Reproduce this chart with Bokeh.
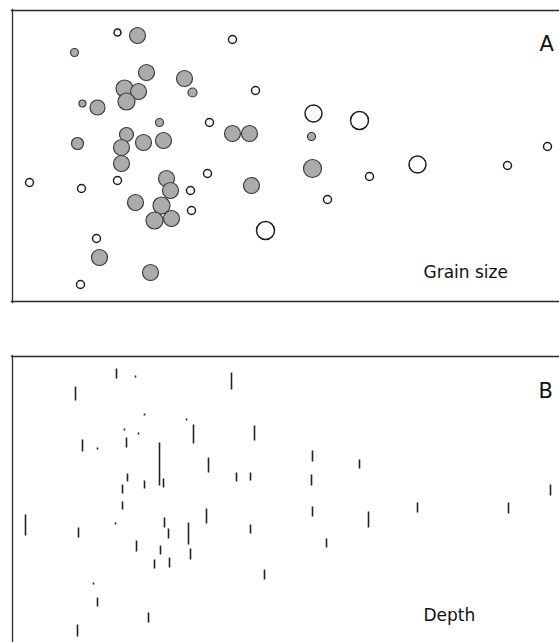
from bokeh.plotting import figure
from bokeh.layouts import column
from bokeh.models import Range1d, Span, Label
from bokeh.embed import file_html
from bokeh.resources import INLINE

# ---- Panel A: grain size at sample locations ----
grain_x = [117, 137, 232, 74, 146, 184, 192, 255, 124, 138, 126, 82, 97, 159, 209,
           232, 249, 77, 126, 143, 163, 121, 121, 29, 81, 117, 166, 207, 170, 190,
           251, 135, 161, 191, 154, 171, 265, 96, 99, 150, 80, 313, 359, 311, 547,
           312, 369, 417, 507, 327]
grain_y = [32, 35, 39, 52, 72, 78, 92, 90, 88, 91, 101, 103, 107, 122, 122,
           133, 133, 143, 134, 142, 140, 147, 163, 182, 188, 180, 178, 173, 190, 190,
           185, 202, 205, 210, 220, 218, 230, 238, 257, 272, 284, 113, 120, 136, 146,
           168, 176, 164, 165, 199]
grain_size = [7, 16, 8, 8, 16, 16, 9, 8, 17, 16, 17, 7, 15, 8, 8,
              16, 16, 12, 14, 16, 16, 16, 16, 8, 8, 8, 16, 8, 16, 8,
              16, 16, 17, 8, 17, 16, 18, 8, 16, 16, 8, 17, 18, 8, 8,
              18, 8, 17, 8, 8]
grain_filled = [0, 1, 0, 1, 1, 1, 1, 0, 1, 1, 1, 1, 1, 1, 0,
                1, 1, 1, 1, 1, 1, 1, 1, 0, 0, 0, 1, 0, 1, 0,
                1, 1, 1, 0, 1, 1, 0, 0, 1, 1, 0, 0, 0, 1, 0,
                1, 0, 0, 0, 0]

# ---- Panel B: depth at sample locations ----
depth_x = [116, 135, 75, 231, 144, 186, 124, 138, 193, 254, 82, 97, 126, 159, 208,
           127, 236, 250, 122, 144, 163, 122, 206, 25, 78, 115, 164, 168, 188, 250,
           136, 160, 190, 154, 169, 264, 93, 97, 148, 77, 312, 359, 311, 312, 368,
           417, 508, 550, 326]
depth_top = [368, 375, 386, 372, 413, 418, 428, 432, 424, 425, 439, 447, 437, 442, 457,
             473, 472, 472, 484, 480, 478, 501, 508, 514, 527, 522, 517, 528, 522, 524,
             540, 545, 548, 559, 557, 569, 582, 597, 612, 624, 450, 459, 474, 506, 511,
             502, 502, 484, 538]
depth_bottom = [378, 377, 400, 389, 415, 420, 430, 434, 443, 440, 451, 449, 447, 485, 472,
                481, 481, 480, 493, 488, 487, 509, 523, 535, 537, 524, 527, 538, 544, 533,
                551, 554, 559, 568, 567, 579, 584, 606, 622, 636, 461, 468, 485, 516, 527,
                512, 513, 495, 547]

BORDER = "#2a2a2a"
FONT = "DejaVu Sans"

# Panel A
pa = figure(width=559, height=320, output_backend="svg", toolbar_location=None,
            x_range=Range1d(10, 559), y_range=Range1d(303, 8),
            min_border_left=10, min_border_right=0, min_border_top=8, min_border_bottom=17,
            x_axis_location=None, y_axis_location=None)
pa.outline_line_color = None
pa.grid.visible = False
pa.background_fill_color = "white"

fx = [x for x, f in zip(grain_x, grain_filled) if f]
fy = [y for y, f in zip(grain_y, grain_filled) if f]
fs = [s for s, f in zip(grain_size, grain_filled) if f]
ox = [x for x, f in zip(grain_x, grain_filled) if not f]
oy = [y for y, f in zip(grain_y, grain_filled) if not f]
os_ = [s for s, f in zip(grain_size, grain_filled) if not f]

pa.scatter(fx, fy, size=fs, marker="circle", fill_color="#ababab",
           line_color="#3a3a3a", line_width=1.2)
pa.scatter(ox, oy, size=os_, marker="circle", fill_color="white",
           line_color="#1e1e1e", line_width=1.5)

for loc, dim in ((12, "height"),):
    pa.add_layout(Span(location=loc, dimension=dim, line_color=BORDER, line_width=1.3))
for loc in (10, 301):
    pa.add_layout(Span(location=loc, dimension="width", line_color=BORDER, line_width=1.5))

pa.add_layout(Label(x=539, y=43, text="A", text_font=FONT, text_font_size="21px",
                    text_color="#111", text_baseline="alphabetic", text_align="left"))
pa.add_layout(Label(x=423, y=271, text="Grain size", text_font=FONT, text_font_size="17px",
                    text_color="#111", text_baseline="alphabetic", text_align="left"))

# Panel B
pb = figure(width=559, height=322, output_backend="svg", toolbar_location=None,
            x_range=Range1d(10, 559), y_range=Range1d(642, 354),
            min_border_left=10, min_border_right=0, min_border_top=34, min_border_bottom=0,
            x_axis_location=None, y_axis_location=None)
pb.outline_line_color = None
pb.grid.visible = False

pb.segment(x0=depth_x, y0=depth_top, x1=depth_x, y1=depth_bottom,
           line_color="#222222", line_width=1.6)

pb.add_layout(Span(location=12, dimension="height", line_color=BORDER, line_width=1.3))
pb.add_layout(Span(location=356, dimension="width", line_color=BORDER, line_width=1.5))

pb.add_layout(Label(x=538, y=390, text="B", text_font=FONT, text_font_size="21px",
                    text_color="#111", text_baseline="alphabetic", text_align="left"))
pb.add_layout(Label(x=423, y=614, text="Depth", text_font=FONT, text_font_size="17px",
                    text_color="#111", text_baseline="alphabetic", text_align="left"))

layout = column(pa, pb, spacing=0)
open("out.html", "w").write(file_html(layout, INLINE))
